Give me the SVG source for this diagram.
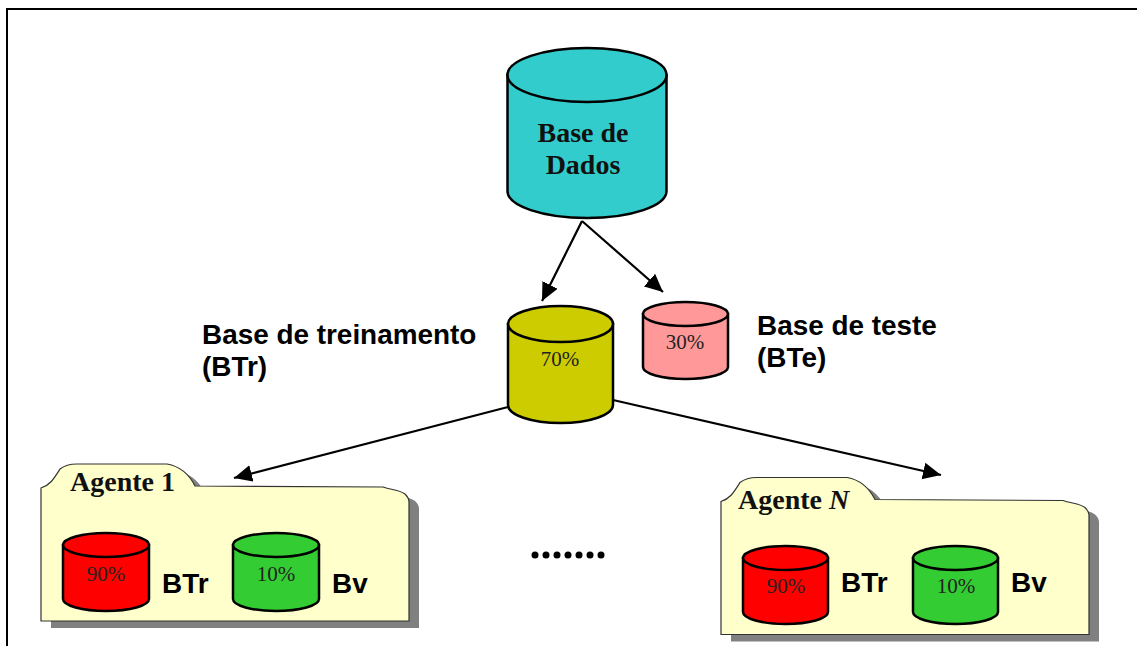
<svg xmlns="http://www.w3.org/2000/svg" width="1137" height="646" viewBox="0 0 1137 646">
<style>
.cyl{stroke:#000;stroke-width:2.5}
.pct{font-family:"Liberation Serif",serif;font-size:21px;text-anchor:middle;fill:#222}
.ser{font-family:"Liberation Serif",serif;font-weight:bold;font-size:28px;fill:#111}
.lab{font-family:"Liberation Sans",sans-serif;font-weight:bold;font-size:27.900px;fill:#000}
.folder{fill:#ffffcc;stroke:#333;stroke-width:1.2}
.shadow{fill:#808080}
.conn{stroke:#000;stroke-width:2.200;fill:none}
</style>
<defs>
<marker id="arr" markerUnits="userSpaceOnUse" markerWidth="20" markerHeight="18" refX="18" refY="9" orient="auto">
<path d="M0,0.500 L18,9 L0,17.500 Z" fill="#000"/>
</marker>
<path id="fp" d="M41,488 C50,485 53,480 60,469 C65,465 70,464 77,464 L167,464 C178,466 188,472 195,486 L383,487 C392,490 400,490 405,494 C408,497 409,499 409,502 L409,621 L41,621 Z"/>
</defs>
<rect id="frame" x="7" y="9" width="1140" height="660" fill="#fff" stroke="#000" stroke-width="2"/>
<g id="connectors">
<path class="conn" d="M582,221 L542,301" marker-end="url(#arr)"/>
<path class="conn" d="M582,221 L663,292" marker-end="url(#arr)"/>
<path class="conn" d="M508,407 L234,478" marker-end="url(#arr)"/>
<path class="conn" d="M613,400 L941,475" marker-end="url(#arr)"/>
</g>
<g id="base-dados">
<path class="cyl" fill="#33cccc" d="M507.500,75 V191 A79.500,27 0 0 0 666.500,191 V75 Z"/>
<ellipse class="cyl" fill="#33cccc" cx="587" cy="75" rx="79.500" ry="27"/>
<text class="ser" x="583" y="142" text-anchor="middle">Base de</text>
<text class="ser" x="583" y="174" text-anchor="middle">Dados</text>
</g>
<g id="base-treinamento">
<path class="cyl" fill="#cccc00" d="M508,324 V405 A52.500,18 0 0 0 613,405 V324 Z"/>
<ellipse class="cyl" fill="#cccc00" cx="560.500" cy="324" rx="52.500" ry="18"/>
<text class="pct" x="560" y="366">70%</text>
<text class="lab" x="202" y="344">Base de treinamento</text>
<text class="lab" x="202" y="376">(BTr)</text>
</g>
<g id="base-teste">
<path class="cyl" fill="#ff9999" d="M643,314 V367 A42.500,12 0 0 0 728,367 V314 Z"/>
<ellipse class="cyl" fill="#ff9999" cx="685.500" cy="314" rx="42.500" ry="12"/>
<text class="pct" x="685" y="349">30%</text>
<text class="lab" x="757" y="335">Base de teste</text>
<text class="lab" x="757" y="367">(BTe)</text>
</g>
<g id="agente-1">
<use href="#fp" class="shadow" x="10" y="7"/>
<use href="#fp" class="folder"/>
<text class="ser" x="70" y="491">Agente 1</text>
<path class="cyl" fill="#ff0000" d="M63,545 V599 A43,12 0 0 0 149,599 V545 Z"/>
<ellipse class="cyl" fill="#ff0000" cx="106" cy="545" rx="43" ry="12"/>
<text class="pct" x="106" y="581">90%</text>
<text class="lab" x="162" y="593">BTr</text>
<path class="cyl" fill="#33cc33" d="M233,545 V599 A43,12 0 0 0 319,599 V545 Z"/>
<ellipse class="cyl" fill="#33cc33" cx="276" cy="545" rx="43" ry="12"/>
<text class="pct" x="276" y="581">10%</text>
<text class="lab" x="332" y="593">Bv</text>
</g>
<g id="agente-n">
<use href="#fp" class="shadow" x="690" y="20.500"/>
<use href="#fp" class="folder" x="680" y="13.500"/>
<text class="ser" x="738" y="509">Agente <tspan font-style="italic">N</tspan></text>
<path class="cyl" fill="#ff0000" d="M743,558 V612 A42.500,12 0 0 0 828,612 V558 Z"/>
<ellipse class="cyl" fill="#ff0000" cx="785.500" cy="558" rx="42.500" ry="12"/>
<text class="pct" x="786" y="593">90%</text>
<text class="lab" x="841" y="592">BTr</text>
<path class="cyl" fill="#33cc33" d="M913,558 V612 A42.500,12 0 0 0 998,612 V558 Z"/>
<ellipse class="cyl" fill="#33cc33" cx="955.500" cy="558" rx="42.500" ry="12"/>
<text class="pct" x="956" y="593">10%</text>
<text class="lab" x="1011" y="592">Bv</text>
</g>
<g id="ellipsis" fill="#000">
<circle cx="535" cy="555" r="3.500"/><circle cx="546" cy="555" r="3.500"/><circle cx="557" cy="555" r="3.500"/><circle cx="568" cy="555" r="3.500"/><circle cx="579" cy="555" r="3.500"/><circle cx="590" cy="555" r="3.500"/><circle cx="601" cy="555" r="3.500"/>
</g>
</svg>
